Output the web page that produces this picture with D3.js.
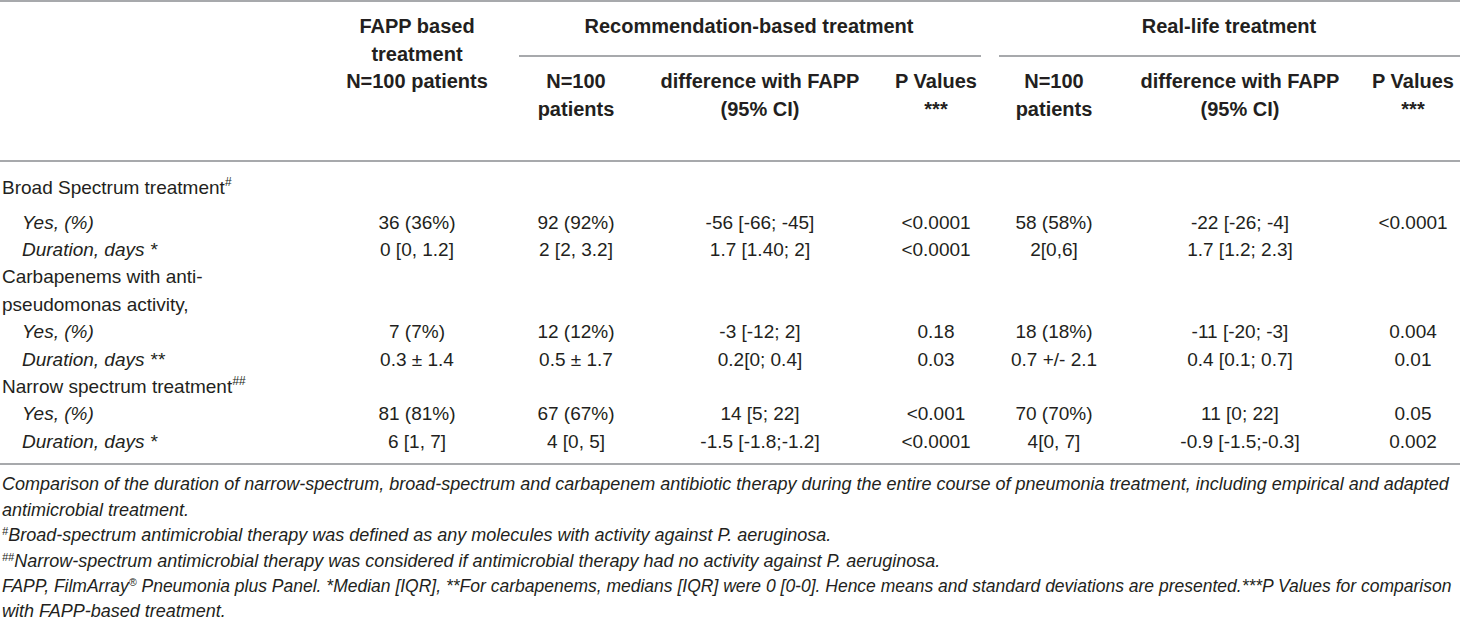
<!DOCTYPE html>
<html>
<head>
<meta charset="utf-8">
<script src="https://cdn.jsdelivr.net/npm/d3@7"></script>
<style>
  html, body { margin: 0; padding: 0; background: #fff; }
  svg { display: block; }
  text { font-family: "Liberation Sans", Arial, sans-serif; fill: #231f20; }
</style>
</head>
<body>
<svg id="chart" width="1460" height="622"></svg>
<script>
// ---------- DATA ----------
const rowLabels = [
  "Broad Spectrum treatment", "Yes, (%)", "Duration, days *",
  "Carbapenems with anti-", "pseudomonas activity,", "Yes, (%)", "Duration, days **",
  "Narrow spectrum treatment", "Yes, (%)", "Duration, days *"
];
const rowIsSub = [false, true, true, false, false, true, true, false, true, true];
const rowSup = ["#", "", "", "", "", "", "", "##", "", ""];

const fappValues     = ["", "36 (36%)", "0 [0, 1.2]", "", "", "7 (7%)", "0.3 ± 1.4", "", "81 (81%)", "6 [1, 7]"];
const recNValues     = ["", "92 (92%)", "2 [2, 3.2]", "", "", "12 (12%)", "0.5 ± 1.7", "", "67 (67%)", "4 [0, 5]"];
const recDiffValues  = ["", "-56 [-66; -45]", "1.7 [1.40; 2]", "", "", "-3 [-12; 2]", "0.2[0; 0.4]", "", "14 [5; 22]", "-1.5 [-1.8;-1.2]"];
const recPValues     = ["", "<0.0001", "<0.0001", "", "", "0.18", "0.03", "", "<0.001", "<0.0001"];
const realNValues    = ["", "58 (58%)", "2[0,6]", "", "", "18 (18%)", "0.7 +/- 2.1", "", "70 (70%)", "4[0, 7]"];
const realDiffValues = ["", "-22 [-26; -4]", "1.7 [1.2; 2.3]", "", "", "-11 [-20; -3]", "0.4 [0.1; 0.7]", "", "11 [0; 22]", "-0.9 [-1.5;-0.3]"];
const realPValues    = ["", "<0.0001", "", "", "", "0.004", "0.01", "", "0.05", "0.002"];

const columnKeys = ["fapp", "recN", "recDiff", "recP", "realN", "realDiff", "realP"];
const columnHeaders = [
  ["FAPP based", "treatment", "N=100 patients"],
  ["N=100", "patients"],
  ["difference with FAPP", "(95% CI)"],
  ["P Values", "***"],
  ["N=100", "patients"],
  ["difference with FAPP", "(95% CI)"],
  ["P Values", "***"]
];
const groupHeaders = ["Recommendation-based treatment", "Real-life treatment"];

const captionLines = [
  [["", "Comparison of the duration of narrow-spectrum, broad-spectrum and carbapenem antibiotic therapy during the entire course of pneumonia treatment, including empirical and adapted"]],
  [["", "antimicrobial treatment."]],
  [["sup", "#"], ["", "Broad-spectrum antimicrobial therapy was defined as any molecules with activity against P. aeruginosa."]],
  [["sup", "##"], ["", "Narrow-spectrum antimicrobial therapy was considered if antimicrobial therapy had no activity against P. aeruginosa."]],
  [["", "FAPP, FilmArray"], ["sup", "®"], ["", " Pneumonia plus Panel. *Median [IQR], **For carbapenems, medians [IQR] were 0 [0-0]. Hence means and standard deviations are presented.***P Values for comparison"]],
  [["", "with FAPP-based treatment."]]
];

const columnData = {
  fapp: fappValues, recN: recNValues, recDiff: recDiffValues, recP: recPValues,
  realN: realNValues, realDiff: realDiffValues, realP: realPValues
};

// ---------- LAYOUT ----------
const W = 1460;
const svg = d3.select("#chart");
const lineColor = "#a7a9ac";
const fs = 19, hfs = 20, capFs = 18, supFs = 11;
const maxCapWidth = 1450;

const colX = d3.scaleOrdinal().domain(columnKeys).range([417, 576, 760, 936, 1054, 1240, 1413]);
const groupExtent = [[519, 981], [999, 1460]];
const groupCenter = [749, 1229];
const headerY = d3.scaleLinear().domain([0, 3]).range([26, 108.5]);
const rowY = d3.scaleLinear().domain([1, 9]).range([222, 441]);
const yOf = i => i === 0 ? rowY(0) - 7 : rowY(i);
const capY = d3.scaleLinear().domain([0, 5]).range([484, 611]);

// rules
const rules = [
  {x1: 0, x2: W, y: 1},
  {x1: 0, x2: W, y: 161},
  {x1: 0, x2: W, y: 464},
  {x1: groupExtent[0][0], x2: groupExtent[0][1], y: 56},
  {x1: groupExtent[1][0], x2: groupExtent[1][1], y: 56}
];
svg.selectAll("line.rule").data(rules).join("line")
  .attr("class", "rule")
  .attr("x1", d => d.x1).attr("x2", d => d.x2)
  .attr("y1", d => d.y).attr("y2", d => d.y)
  .attr("stroke", lineColor).attr("stroke-width", 2);

// group headers
svg.selectAll("text.group").data(groupHeaders).join("text")
  .attr("class", "group")
  .attr("x", (d, i) => groupCenter[i])
  .attr("y", headerY(0)).attr("dy", "0.35em")
  .attr("text-anchor", "middle").attr("font-weight", "bold").attr("font-size", hfs)
  .text(d => d);

// column headers
columnKeys.forEach((k, ci) => {
  const lines = columnHeaders[ci];
  const start = ci === 0 ? 0 : 2;
  svg.append("g").selectAll("text").data(lines).join("text")
    .attr("x", colX(k))
    .attr("y", (d, i) => headerY(start + i)).attr("dy", "0.35em")
    .attr("text-anchor", "middle").attr("font-weight", "bold").attr("font-size", hfs)
    .text(d => d);
});

// row labels
const lab = svg.append("g").selectAll("text").data(rowLabels).join("text")
  .attr("x", (d, i) => rowIsSub[i] ? 22 : 2)
  .attr("y", (d, i) => yOf(i) + fs * 0.35)
  .attr("font-size", fs)
  .attr("font-style", (d, i) => rowIsSub[i] ? "italic" : "normal");
lab.append("tspan").text(d => d);
lab.append("tspan").attr("font-size", 12).attr("font-style", "italic").attr("dy", -8).text((d, i) => rowSup[i]);

// caption
const cap = svg.append("g").selectAll("text").data(captionLines).join("text")
  .attr("x", 2).attr("y", (d, i) => capY(i) + capFs * 0.35)
  .attr("font-size", capFs).attr("font-style", "italic");
cap.each(function(parts) {
  const t = d3.select(this);
  let raised = false;
  parts.forEach(([kind, str]) => {
    const ts = t.append("tspan").attr("class", kind || "norm").text(str);
    if (kind === "sup") {
      ts.attr("font-size", supFs).attr("dy", raised ? 0 : -6);
      raised = true;
    } else if (raised) {
      ts.attr("dy", 6);
      raised = false;
    }
  });
  const w = this.getComputedTextLength();
  if (w > maxCapWidth) {
    const k = maxCapWidth / w;
    t.attr("font-size", capFs * k);
    t.selectAll("tspan.sup").attr("font-size", supFs * k);
  }
});

// data cells
columnKeys.forEach(k => {
  svg.append("g").selectAll("text").data(columnData[k]).join("text")
    .attr("x", colX(k))
    .attr("y", (d, i) => yOf(i)).attr("dy", "0.35em")
    .attr("text-anchor", "middle").attr("font-size", fs)
    .text(d => d);
});
</script>
</body>
</html>
